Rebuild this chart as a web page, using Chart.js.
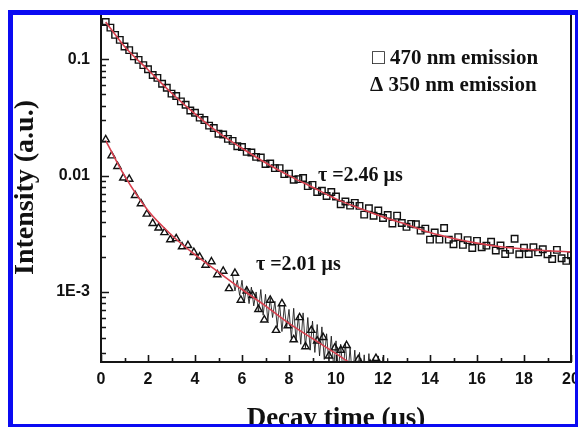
<!DOCTYPE html>
<html>
<head>
<meta charset="utf-8">
<script src="https://cdn.jsdelivr.net/npm/chart.js@4.4.0/dist/chart.umd.min.js"></script>
<style>
  body { margin: 0; background: #fff; }
  canvas { display: block; }
</style>
</head>
<body>
<canvas id="decayChart" width="578" height="427"></canvas>
<script>
// 470 nm emission, sampled every 0.2 us
const time470 = [
  0.2, 0.4, 0.6, 0.8, 1.0, 1.2, 1.4, 1.6, 1.8, 2.0,
  2.2, 2.4, 2.6, 2.8, 3.0, 3.2, 3.4, 3.6, 3.8, 4.0,
  4.2, 4.4, 4.6, 4.8, 5.0, 5.2, 5.4, 5.6, 5.8, 6.0,
  6.2, 6.4, 6.6, 6.8, 7.0, 7.2, 7.4, 7.6, 7.8, 8.0,
  8.2, 8.4, 8.6, 8.8, 9.0, 9.2, 9.4, 9.6, 9.8, 10.0,
  10.2, 10.4, 10.6, 10.8, 11.0, 11.2, 11.4, 11.6, 11.8, 12.0,
  12.2, 12.4, 12.6, 12.8, 13.0, 13.2, 13.4, 13.6, 13.8, 14.0,
  14.2, 14.4, 14.6, 14.8, 15.0, 15.2, 15.4, 15.6, 15.8, 16.0,
  16.2, 16.4, 16.6, 16.8, 17.0, 17.2, 17.4, 17.6, 17.8, 18.0,
  18.2, 18.4, 18.6, 18.8, 19.0, 19.2, 19.4, 19.6, 19.8, 20.0
];
const intensity470 = [
  0.209, 0.187, 0.162, 0.147, 0.129, 0.120, 0.106, 0.0989, 0.0891, 0.0822,
  0.0733, 0.0692, 0.0617, 0.0569, 0.0507, 0.0483, 0.0435, 0.0407, 0.0363, 0.0347,
  0.0315, 0.0301, 0.0269, 0.0257, 0.0229, 0.0226, 0.0207, 0.0199, 0.0179, 0.0176,
  0.0160, 0.0158, 0.0145, 0.0143, 0.0126, 0.0127, 0.0116, 0.0116, 0.0103, 0.0104,
  0.00923, 0.00933, 0.00955, 0.00813, 0.00832, 0.00724, 0.00741, 0.00668, 0.00724, 0.00661,
  0.00568, 0.00600, 0.00552, 0.00583, 0.00550, 0.00462, 0.00525, 0.00452, 0.00501, 0.00432,
  0.00459, 0.00388, 0.00453, 0.00392, 0.00363, 0.00385, 0.00382, 0.00337, 0.00350, 0.00282,
  0.00324, 0.00282, 0.00355, 0.00282, 0.00257, 0.00296, 0.00254, 0.00279, 0.00239, 0.00275,
  0.00242, 0.00250, 0.00270, 0.00227, 0.00251, 0.00212, 0.00230, 0.00287, 0.00211, 0.00240,
  0.00212, 0.00242, 0.00219, 0.00233, 0.00211, 0.00192, 0.00230, 0.00195, 0.00185, 0.00207
];

// 350 nm emission
const time350 = [
  0.2, 0.45, 0.7, 0.95, 1.2, 1.45, 1.7, 1.95, 2.2, 2.45,
  2.7, 2.95, 3.2, 3.45, 3.7, 3.95, 4.2, 4.45, 4.7, 4.95,
  5.2, 5.45, 5.7, 5.95, 6.2, 6.45, 6.7, 6.95, 7.2, 7.45,
  7.7, 7.95, 8.2, 8.45, 8.7, 8.95, 9.2, 9.45, 9.7, 9.95,
  10.2, 10.45, 10.7, 10.95, 11.2, 11.45, 11.7
];
const intensity350 = [
  0.0204, 0.0148, 0.0120, 0.00955, 0.00933, 0.00676, 0.00575, 0.00468, 0.00389, 0.00355,
  0.00324, 0.00282, 0.00288, 0.00245, 0.00251, 0.00219, 0.00200, 0.00170, 0.00182, 0.00141,
  0.00151, 0.00107, 0.00145, 0.000851, 0.00102, 0.000933, 0.000708, 0.000575, 0.000851, 0.000468,
  0.000794, 0.000513, 0.000389, 0.000603, 0.000339, 0.000468, 0.000380, 0.000407, 0.000282, 0.000331,
  0.000316, 0.000347, 0.000224, 0.000263, 0.000219, 0.000240, 0.000269
];

// raw 350 nm trace in the noisy tail
const timeRaw350 = [
  5.6, 5.7, 5.8, 5.9, 6.0, 6.1, 6.2, 6.3, 6.4, 6.5,
  6.6, 6.7, 6.8, 6.9, 7.0, 7.1, 7.2, 7.3, 7.4, 7.5,
  7.6, 7.7, 7.8, 7.9, 8.0, 8.1, 8.2, 8.3, 8.4, 8.5,
  8.6, 8.7, 8.8, 8.9, 9.0, 9.1, 9.2, 9.3, 9.4, 9.5,
  9.6, 9.7, 9.8, 9.9, 10.0, 10.1, 10.2, 10.3, 10.4, 10.5,
  10.6, 10.7, 10.8, 10.9, 11.0, 11.1, 11.2, 11.3, 11.4, 11.5,
  11.6, 11.7, 11.8, 11.9, 12.0, 12.1, 12.2, 12.3
];
const raw350 = [
  0.00138, 0.00102, 0.00126, 0.000933, 0.00126, 0.000832, 0.00112, 0.000794, 0.00110, 0.000759,
  0.00100, 0.000676, 0.00105, 0.000631, 0.000955, 0.000562, 0.000891, 0.000603, 0.000832, 0.000501,
  0.000794, 0.000457, 0.000759, 0.000490, 0.000708, 0.000398, 0.000724, 0.000380, 0.000631, 0.000355,
  0.000661, 0.000331, 0.000603, 0.000316, 0.000562, 0.000302, 0.000525, 0.000282, 0.000501, 0.000263,
  0.000437, 0.000240, 0.000417, 0.000224, 0.000380, 0.000209, 0.000355, 0.000200, 0.000363, 0.000191,
  0.000331, 0.000178, 0.000316, 0.000166, 0.000302, 0.000158, 0.000288, 0.000158, 0.000295, 0.000158,
  0.000269, 0.000158, 0.000282, 0.000158, 0.000275, 0.000158, 0.000269, 0.000158
];

// fitted decay curves
const fitTime470 = [0.2, 0.5, 1, 2, 3, 4, 5, 6, 7, 8, 9, 10, 11, 12, 13, 14, 15, 16, 17, 18, 19, 20];
const fit470 = [0.209, 0.174, 0.129, 0.0813, 0.0513, 0.0339, 0.0234, 0.0172, 0.0129, 0.0100, 0.00794,
  0.00631, 0.00525, 0.00442, 0.00380, 0.00324, 0.00288, 0.00263, 0.00245, 0.00234, 0.00226, 0.00221];
const fitTime350 = [0.2, 1, 2, 3, 4, 5, 6, 7, 8, 9, 10, 10.6];
const fit350 = [0.0200, 0.0100, 0.00501, 0.00309, 0.00209, 0.00148, 0.00105, 0.000759, 0.000537,
  0.000398, 0.000295, 0.000245];

const yTickValues = [0.001, 0.01, 0.1];
const yTickLabels = ['1E-3', '0.01', '0.1'];
const lifetimeLabels = ['\u03c4 =2.46 \u03bcs', '\u03c4 =2.01 \u03bcs'];
const legendLabels = ['\u25a1 470 nm emission', '\u0394 350 nm emission'];

const toPoints = (xs, ys) => xs.map((x, i) => ({ x: x, y: ys[i] }));

const serif = '"Liberation Serif", "Times New Roman", serif';
const sans = '"Liberation Sans", Arial, sans-serif';

// box frame, inward ticks, text labels and the outer blue border
const decorations = {
  id: 'decorations',
  afterDraw(chart) {
    const { ctx, chartArea: a } = chart;
    const xs = chart.scales.x, ys = chart.scales.y;
    ctx.save();
    ctx.strokeStyle = '#151515';
    ctx.lineWidth = 2;
    ctx.strokeRect(a.left, a.top, a.right - a.left, a.bottom - a.top);

    ctx.lineWidth = 1.6;
    ctx.beginPath();
    for (let d = -4; d <= -1; d++) {
      for (let k = 1; k <= 9; k++) {
        const v = k * Math.pow(10, d);
        if (v < ys.min || v > ys.max) continue;
        const py = Math.round(ys.getPixelForValue(v)) + 0.5;
        ctx.moveTo(a.left, py);
        ctx.lineTo(a.left + (k === 1 ? 8 : 5), py);
      }
    }
    for (let t = 0; t <= 20; t++) {
      const px = Math.round(xs.getPixelForValue(t)) + 0.5;
      ctx.moveTo(px, a.bottom);
      ctx.lineTo(px, a.bottom - (t % 2 === 0 ? 7 : 4));
    }
    ctx.stroke();

    ctx.fillStyle = '#111';
    ctx.textBaseline = 'middle';
    ctx.font = 'bold 21px ' + serif;
    ctx.fillText(legendLabels[0], 372, 59);
    ctx.fillText(legendLabels[1], 370, 86);
    ctx.font = 'bold 20px ' + serif;
    ctx.fillText(lifetimeLabels[0], 318, 176);
    ctx.fillText(lifetimeLabels[1], 256, 265);

    ctx.fillStyle = '#0b0bf2';
    ctx.fillRect(8, 10, 570, 5);
    ctx.fillRect(8, 10, 5, 417);
    ctx.fillRect(575, 10, 3, 417);
    ctx.fillRect(8, 424, 570, 3);
    ctx.restore();
  }
};

new Chart(document.getElementById('decayChart'), {
  type: 'scatter',
  data: {
    datasets: [
      {
        data: toPoints(fitTime470, fit470),
        showLine: true,
        borderColor: '#d8404e',
        borderWidth: 1.6,
        pointRadius: 0,
        cubicInterpolationMode: 'monotone'
      },
      {
        data: toPoints(fitTime350, fit350),
        showLine: true,
        borderColor: '#d8404e',
        borderWidth: 1.6,
        pointRadius: 0,
        cubicInterpolationMode: 'monotone'
      },
      {
        data: toPoints(time470, intensity470),
        pointStyle: 'rect',
        pointRadius: 4.6,
        borderColor: '#111',
        borderWidth: 1.4,
        backgroundColor: 'rgba(0,0,0,0)'
      },
      {
        data: toPoints(time350, intensity350),
        pointStyle: 'triangle',
        pointRadius: 4.2,
        borderColor: '#111',
        borderWidth: 1.4,
        backgroundColor: 'rgba(0,0,0,0)'
      },
      {
        data: toPoints(timeRaw350, raw350),
        showLine: true,
        borderColor: 'rgba(20,20,20,0.85)',
        borderWidth: 1,
        pointRadius: 0
      }
    ]
  },
  options: {
    responsive: false,
    animation: false,
    devicePixelRatio: 1,
    layout: { padding: { left: 13, top: 13, right: 7, bottom: 0 } },
    plugins: { legend: { display: false }, tooltip: { enabled: false } },
    scales: {
      x: {
        type: 'linear',
        min: 0,
        max: 20,
        grid: { display: false, drawTicks: false },
        border: { display: false },
        ticks: {
          stepSize: 2,
          padding: 8,
          maxRotation: 0,
          color: '#111',
          font: { family: sans, size: 16, weight: 'bold' }
        },
        title: {
          display: true,
          text: 'Decay time (\u03bcs)',
          color: '#111',
          font: { family: serif, size: 27, weight: 'bold', lineHeight: 1 },
          padding: { top: 0, bottom: -6 }
        },
        afterFit(scale) {
          scale.height = 65;
          scale.paddingLeft = 0;
          scale.paddingRight = 0;
        }
      },
      y: {
        type: 'logarithmic',
        min: 2.5e-4,
        max: 0.25,
        grid: { display: false, drawTicks: false },
        border: { display: false },
        afterBuildTicks(scale) {
          scale.ticks = yTickValues.map(v => ({ value: v }));
        },
        ticks: {
          padding: 11,
          color: '#111',
          font: { family: sans, size: 16, weight: 'bold' },
          callback: v => {
            const i = yTickValues.indexOf(v);
            return i >= 0 ? yTickLabels[i] : '';
          }
        },
        title: {
          display: true,
          text: 'Intensity (a.u.)',
          color: '#111',
          font: { family: serif, size: 28, weight: 'bold', lineHeight: 1 },
          padding: { top: -1, bottom: 0 }
        },
        afterFit(scale) {
          scale.width = 88;
          scale.paddingTop = 0;
          scale.paddingBottom = 0;
        }
      }
    }
  },
  plugins: [decorations]
});
</script>
</body>
</html>
